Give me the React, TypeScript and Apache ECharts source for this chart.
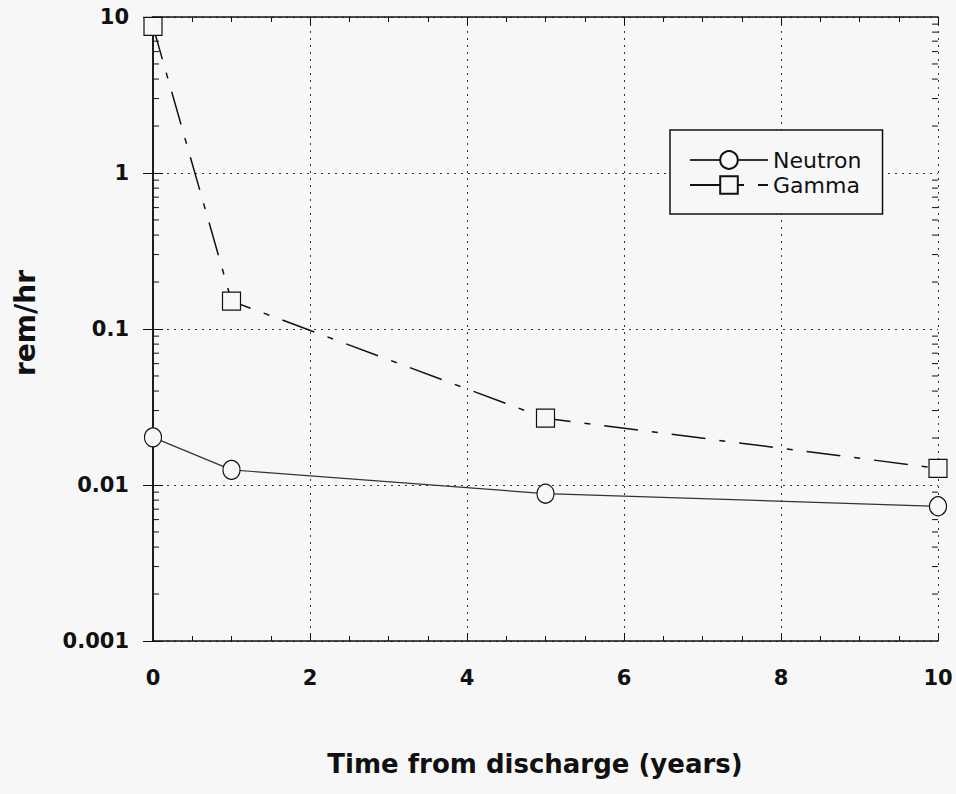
import React, { useEffect, useRef } from "react";
import * as echarts from "echarts";

const YEARS = [0, 1, 5, 10];
const NEUTRON = [0.0202, 0.0125, 0.0088, 0.0073];
const GAMMA = [8.7, 0.151, 0.0268, 0.0128];
const Y_TICK_LABELS = ["0.001", "0.01", "0.1", "1", "10"];
const Y_DECADES = [0.001, 0.01, 0.1, 1];
const MINOR_MULTIPLIERS = [2, 3, 4, 5, 6, 7, 8, 9];
const X_NAME = "Time from discharge (years)";
const Y_NAME = "rem/hr";

const BG = "#f7f7f7";
const INK = "#111";
const FONT = "DejaVu Sans";

export default function App() {
  const ref = useRef<HTMLDivElement>(null);
  useEffect(() => {
    if (!ref.current) return;
    const chart = echarts.init(ref.current, null, { renderer: "svg" });
    const minorTicks = Y_DECADES.flatMap((d) => MINOR_MULTIPLIERS.map((m) => [0, m * d]));
    const yLabel = (v: number) => {
      const k = Math.round(Math.log10(v)) + 3;
      return Y_TICK_LABELS[k] ?? "";
    };
    const splitLine = { show: true, lineStyle: { color: "#333", type: [2, 5], width: 1 } };
    chart.setOption({
      animation: false,
      backgroundColor: BG,
      grid: { left: 153, right: 18, top: 17, bottom: 153, containLabel: false },
      legend: {
        data: ["Neutron", "Gamma"],
        orient: "vertical",
        left: 670,
        top: 130,
        padding: [19, 21, 18, 19],
        itemGap: 3,
        itemWidth: 78,
        itemHeight: 22,
        borderColor: INK,
        borderWidth: 1.5,
        borderRadius: 0,
        backgroundColor: BG,
        textStyle: { fontFamily: FONT, fontSize: 22, color: INK },
      },
      xAxis: [
        {
          type: "value",
          min: 0,
          max: 10,
          interval: 2,
          name: X_NAME,
          nameLocation: "middle",
          nameGap: 110,
          nameTextStyle: {
            fontFamily: FONT,
            fontWeight: "bold",
            fontSize: 26,
            color: INK,
            padding: [0, 21, 0, 0],
          },
          axisLine: { show: true, lineStyle: { color: INK, width: 1.5 } },
          axisTick: { show: true, inside: true, length: 8, lineStyle: { color: INK } },
          minorTick: { show: true, splitNumber: 4, length: 5, lineStyle: { color: INK } },
          axisLabel: {
            margin: 26,
            fontFamily: FONT,
            fontWeight: "bold",
            fontSize: 21,
            color: INK,
          },
          splitLine,
        },
        {
          type: "value",
          position: "top",
          min: 0,
          max: 10,
          interval: 2,
          axisLine: { show: true, lineStyle: { color: INK, width: 1.5 } },
          axisTick: { show: true, inside: true, length: 8, lineStyle: { color: INK } },
          minorTick: { show: true, splitNumber: 4, length: 5, lineStyle: { color: INK } },
          axisLabel: { show: false },
          splitLine: { show: false },
        },
      ],
      yAxis: [
        {
          type: "log",
          logBase: 10,
          min: 0.001,
          max: 10,
          name: Y_NAME,
          nameLocation: "middle",
          nameRotate: 90,
          nameGap: 114,
          nameTextStyle: {
            fontFamily: FONT,
            fontWeight: "bold",
            fontSize: 28,
            color: INK,
            padding: [0, 0, 0, 12],
          },
          axisLine: { show: true, lineStyle: { color: INK, width: 1.5 } },
          axisTick: { show: true, inside: true, length: 10, lineStyle: { color: INK } },
          axisLabel: {
            margin: 24,
            fontFamily: FONT,
            fontWeight: "bold",
            fontSize: 21,
            color: INK,
            formatter: yLabel,
          },
          splitLine,
        },
        {
          type: "log",
          logBase: 10,
          min: 0.001,
          max: 10,
          position: "right",
          axisLine: { show: true, lineStyle: { color: INK, width: 1.5 } },
          axisTick: { show: true, inside: true, length: 10, lineStyle: { color: INK } },
          axisLabel: { show: false },
          splitLine: { show: false },
        },
      ],
      series: [
        {
          name: "minor",
          type: "custom",
          xAxisIndex: 0,
          yAxisIndex: 0,
          silent: true,
          encode: { x: 0, y: 1 },
          data: minorTicks,
          renderItem: (params: any, api: any) => {
            const v = api.value(1);
            const pl = api.coord([0, v]);
            const pr = api.coord([10, v]);
            return {
              type: "group",
              children: [
                {
                  type: "line",
                  shape: { x1: pl[0], y1: pl[1], x2: pl[0] + 6, y2: pl[1] },
                  style: { stroke: INK, lineWidth: 1 },
                },
                {
                  type: "line",
                  shape: { x1: pr[0] - 6, y1: pr[1], x2: pr[0], y2: pr[1] },
                  style: { stroke: INK, lineWidth: 1 },
                },
              ],
            };
          },
        },
        {
          name: "Neutron",
          type: "line",
          data: YEARS.map((x, i) => [x, NEUTRON[i]]),
          smooth: false,
          symbol: "circle",
          symbolSize: [17, 19],
          lineStyle: { color: "#333", width: 1.2, type: "solid" },
          itemStyle: { color: BG, borderColor: INK, borderWidth: 1.2 },
          z: 3,
        },
        {
          name: "Gamma",
          type: "line",
          data: YEARS.map((x, i) => [x, GAMMA[i]]),
          smooth: false,
          symbol: "rect",
          symbolSize: 18,
          lineStyle: { color: "#111", width: 1.5, type: [34, 14, 6, 14] },
          itemStyle: { color: BG, borderColor: INK, borderWidth: 1.2 },
          z: 3,
        },
      ],
    });
    return () => chart.dispose();
  }, []);
  return (
    <div
      ref={ref}
      style={{ position: "absolute", left: 0, top: 0, width: 956, height: 794 }}
    />
  );
}
